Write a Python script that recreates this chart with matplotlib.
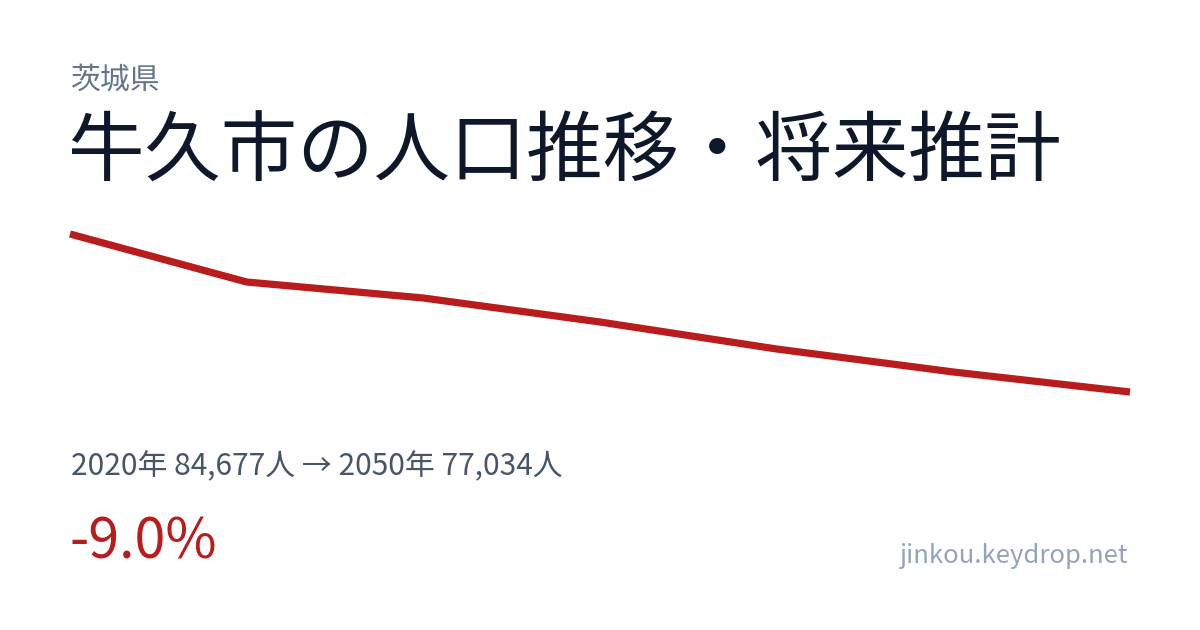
import matplotlib
matplotlib.use("Agg")
import matplotlib.pyplot as plt

plt.rcParams['font.family'] = ['Noto Sans CJK JP', 'DejaVu Sans']

# data
years = [2020, 2025, 2030, 2035, 2040, 2045, 2050]
population = [84677, 82355, 81581, 80420, 79114, 78002, 77034]

prefecture = "茨城県"
title = "牛久市の人口推移・将来推計"
site = "jinkou.keydrop.net"

W, H = 1200, 630
fig = plt.figure(figsize=(W / 100, H / 100), dpi=100)
fig.patch.set_facecolor("white")


def fx(px):
    return px / W


def fy(py):
    return 1 - py / H


# line area in pixels: x 70..1130, y 234..392
ax = fig.add_axes([fx(70), fy(392), fx(1060), 158 / H])
ax.plot(years, population, color="#b91c1c", lw=5.2, solid_capstyle="butt",
        solid_joinstyle="round", clip_on=False)
ax.set_xlim(years[0], years[-1])
ax.set_ylim(min(population), max(population))
ax.axis("off")

change = (population[-1] - population[0]) / population[0] * 100
summary = f"{years[0]}年 {population[0]:,}人 → {years[-1]}年 {population[-1]:,}人"

fig.text(fx(71), fy(65), prefecture, fontsize=21.5, color="#64748b", va="top")
fig.text(fx(68), fy(114), title, fontsize=55, color="#0f172a", va="top")
fig.text(fx(71), fy(451), summary, fontsize=21.5, color="#475569", va="top")
fig.text(fx(70), fy(514), f"{change:.1f}%", fontsize=40, color="#b91c1c", va="top")
fig.text(fx(1128), fy(543), site, fontsize=18.5, color="#94a3b8", va="top", ha="right")

fig.savefig("out.png", dpi=100)
